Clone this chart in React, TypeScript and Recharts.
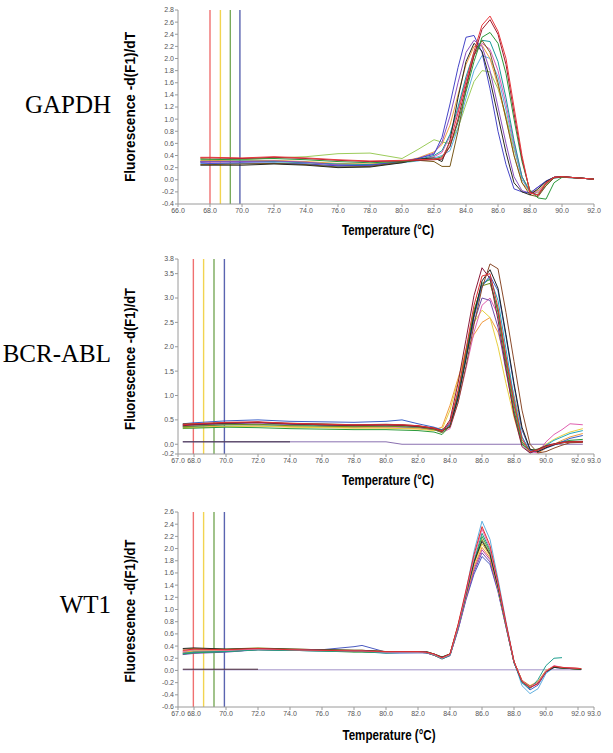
import React from 'react';
import { LineChart, Line, XAxis, YAxis, ReferenceLine } from 'recharts';

// ---------- GAPDH ----------
const gapdhTemps = [67.4, 68, 70, 72, 74, 76, 78, 80, 81, 82, 82.5, 83, 83.5, 84, 84.5, 85, 85.5, 86, 86.5, 87, 87.5, 88, 88.5, 89, 89.5, 90, 91, 92];
const gapdhRed = [0.37, 0.37, 0.36, 0.38, 0.36, 0.33, 0.31, 0.32, 0.33, 0.34, 0.36, 0.62, 1.1, 1.62, 2.12, 2.55, 2.7, 2.45, 2.0, 1.2, 0.4, -0.22, -0.25, -0.05, 0.04, 0.05, 0.03, 0.01];
const gapdhMaroon = [0.36, 0.36, 0.35, 0.37, 0.35, 0.32, 0.3, 0.31, 0.32, 0.33, 0.34, 0.55, 1.0, 1.55, 2.05, 2.48, 2.64, 2.4, 1.9, 1.1, 0.35, -0.2, -0.26, -0.06, 0.04, 0.05, 0.03, 0.01];
const gapdhBlue = [0.28, 0.27, 0.28, 0.27, 0.26, 0.23, 0.24, 0.3, 0.35, 0.42, 0.7, 1.25, 1.85, 2.35, 2.38, 2.1, 1.5, 0.8, 0.25, -0.15, -0.2, -0.22, -0.12, -0.02, 0.04, 0.05, 0.03, 0.01];
const gapdhGreen = [0.33, 0.33, 0.34, 0.35, 0.33, 0.3, 0.28, 0.3, 0.32, 0.34, 0.38, 0.55, 0.95, 1.45, 1.95, 2.35, 2.43, 2.25, 1.75, 1.0, 0.3, -0.18, -0.3, -0.32, -0.05, 0.04, 0.03, 0.01];
const gapdhTeal = [0.3, 0.3, 0.31, 0.3, 0.28, 0.26, 0.25, 0.29, 0.33, 0.4, 0.48, 0.75, 1.2, 1.7, 2.1, 2.3, 2.28, 1.95, 1.35, 0.65, 0.05, -0.2, -0.25, -0.1, 0.03, 0.04, 0.03, 0.01];
const gapdhLime = [0.35, 0.34, 0.33, 0.36, 0.38, 0.43, 0.44, 0.35, 0.5, 0.66, 0.62, 0.6, 0.85, 1.25, 1.62, 1.8, 1.78, 1.5, 1.05, 0.5, 0.05, -0.18, -0.22, -0.08, 0.03, 0.05, 0.03, 0.01];
const gapdhOrange = [0.32, 0.32, 0.31, 0.32, 0.3, 0.27, 0.26, 0.3, 0.36, 0.46, 0.58, 0.9, 1.4, 1.9, 2.2, 2.22, 2.0, 1.55, 1.0, 0.4, -0.05, -0.2, -0.18, -0.05, 0.04, 0.05, 0.03, 0.01];
const gapdhPink = [0.29, 0.29, 0.3, 0.31, 0.29, 0.25, 0.24, 0.29, 0.33, 0.38, 0.45, 0.72, 1.15, 1.65, 2.05, 2.25, 2.15, 1.8, 1.25, 0.6, 0.05, -0.22, -0.2, -0.06, 0.04, 0.04, 0.03, 0.01];
const gapdhBrown = [0.25, 0.25, 0.26, 0.27, 0.25, 0.21, 0.22, 0.29, 0.32, 0.3, 0.22, 0.22, 0.8, 1.5, 2.05, 2.3, 2.1, 1.6, 1.0, 0.4, -0.05, -0.25, -0.28, -0.1, 0.03, 0.05, 0.03, 0.01];
const gapdhBlack = [0.24, 0.24, 0.24, 0.26, 0.24, 0.2, 0.21, 0.28, 0.34, 0.36, 0.3, 0.65, 1.35, 1.95, 2.25, 2.12, 1.65, 1.05, 0.45, -0.05, -0.2, -0.25, -0.15, -0.03, 0.04, 0.05, 0.03, 0.01];
const gapdhPurple = [0.3, 0.3, 0.3, 0.31, 0.29, 0.24, 0.23, 0.29, 0.35, 0.44, 0.62, 1.05, 1.6, 2.1, 2.3, 2.2, 1.8, 1.2, 0.6, 0.05, -0.18, -0.22, -0.12, -0.03, 0.04, 0.05, 0.03, 0.01];
const gapdhCyan = [0.27, 0.27, 0.27, 0.28, 0.26, 0.22, 0.23, 0.28, 0.31, 0.36, 0.4, 0.48, 0.85, 1.35, 1.8, 2.05, 2.0, 1.7, 1.15, 0.55, 0.0, -0.2, -0.18, -0.05, 0.03, 0.04, 0.03, 0.01];
const gapdhXTicks = [66, 68, 70, 72, 74, 76, 78, 80, 82, 84, 86, 88, 90, 92];
const gapdhYTicks = [-0.4, -0.2, 0, 0.2, 0.4, 0.6, 0.8, 1.0, 1.2, 1.4, 1.6, 1.8, 2.0, 2.2, 2.4, 2.6, 2.8];

// ---------- BCR-ABL ----------
const bcrTemps = [67.3, 68, 70, 72, 74, 76, 78, 80, 81, 82, 83, 83.5, 84, 84.5, 85, 85.5, 86, 86.5, 87, 87.5, 88, 88.5, 89, 89.5, 90, 90.5, 91, 91.5, 92.3];
const bcrRed = [0.4, 0.42, 0.45, 0.46, 0.43, 0.41, 0.4, 0.4, 0.4, 0.38, 0.33, 0.27, 0.45, 1.1, 1.95, 2.85, 3.45, 3.5, 2.8, 1.8, 0.85, 0.1, -0.15, -0.12, -0.05, 0.0, 0.03, 0.05, 0.05];
const bcrMaroon = [0.38, 0.4, 0.44, 0.45, 0.42, 0.4, 0.39, 0.4, 0.39, 0.37, 0.32, 0.26, 0.5, 1.25, 2.15, 3.05, 3.62, 3.4, 2.55, 1.55, 0.6, -0.05, -0.18, -0.1, -0.03, 0.01, 0.04, 0.05, 0.05];
const bcrBrown = [0.42, 0.42, 0.44, 0.45, 0.43, 0.42, 0.4, 0.41, 0.4, 0.38, 0.33, 0.28, 0.35, 0.85, 1.6, 2.45, 3.2, 3.7, 3.6, 2.7, 1.7, 0.7, 0.0, -0.18, -0.15, -0.08, -0.02, 0.03, 0.04];
const bcrBlue = [0.42, 0.44, 0.48, 0.5, 0.47, 0.46, 0.45, 0.47, 0.5, 0.42, 0.35, 0.3, 0.4, 0.95, 1.75, 2.6, 3.25, 3.45, 3.15, 2.2, 1.2, 0.3, -0.12, -0.15, -0.08, -0.02, 0.05, 0.12, 0.18];
const bcrGreen = [0.33, 0.33, 0.35, 0.34, 0.32, 0.31, 0.3, 0.3, 0.29, 0.28, 0.25, 0.2, 0.38, 1.0, 1.85, 2.7, 3.3, 3.38, 2.7, 1.65, 0.7, 0.0, -0.12, -0.1, -0.04, 0.0, 0.05, 0.08, 0.1];
const bcrCyan = [0.36, 0.37, 0.4, 0.4, 0.39, 0.38, 0.37, 0.37, 0.36, 0.35, 0.31, 0.27, 0.36, 0.95, 1.8, 2.65, 3.25, 3.42, 2.95, 1.95, 0.95, 0.15, -0.14, -0.12, -0.02, 0.08, 0.15, 0.22, 0.28];
const bcrOrange = [0.34, 0.35, 0.37, 0.38, 0.36, 0.35, 0.34, 0.34, 0.33, 0.32, 0.3, 0.35, 0.8, 1.35, 1.85, 2.25, 2.5, 2.6, 2.3, 1.7, 1.0, 0.3, -0.1, -0.18, -0.08, 0.0, 0.08, 0.15, 0.22];
const bcrPink = [0.37, 0.38, 0.41, 0.42, 0.4, 0.38, 0.36, 0.36, 0.35, 0.34, 0.3, 0.24, 0.32, 0.85, 1.55, 2.3, 2.85, 3.0, 2.65, 1.8, 0.9, 0.15, -0.15, -0.18, 0.05, 0.2, 0.3, 0.42, 0.4];
const bcrBlack = [0.4, 0.41, 0.43, 0.45, 0.42, 0.4, 0.39, 0.4, 0.39, 0.37, 0.33, 0.28, 0.36, 0.95, 1.75, 2.65, 3.35, 3.58, 3.2, 2.25, 1.25, 0.35, -0.1, -0.15, -0.07, -0.01, 0.03, 0.05, 0.05];
const bcrYellow = [0.32, 0.34, 0.36, 0.37, 0.35, 0.34, 0.33, 0.33, 0.32, 0.31, 0.28, 0.3, 0.7, 1.3, 1.95, 2.5, 2.75, 2.6, 2.0, 1.25, 0.55, 0.0, -0.15, -0.1, 0.0, 0.1, 0.18, 0.25, 0.32];
const bcrPurple = [0.39, 0.4, 0.42, 0.44, 0.41, 0.4, 0.38, 0.38, 0.38, 0.36, 0.31, 0.25, 0.45, 1.05, 1.8, 2.5, 3.0, 2.95, 2.4, 1.5, 0.65, 0.0, -0.18, -0.12, -0.05, 0.0, 0.04, 0.06, 0.06];
const bcrOlive = [0.36, 0.37, 0.4, 0.41, 0.38, 0.37, 0.36, 0.37, 0.36, 0.35, 0.3, 0.24, 0.4, 1.05, 1.9, 2.75, 3.25, 3.3, 2.75, 1.75, 0.8, 0.05, -0.15, -0.12, -0.04, 0.0, 0.03, 0.05, 0.06];
const bcrNtcDark = [0.05, 0.05, 0.05, 0.05, 0.05, null, null, null, null, null, null, null, null, null, null, null, null, null, null, null, null, null, null, null, null, null, null, null, null];
const bcrNtc = [0.05, 0.05, 0.05, 0.05, 0.05, 0.05, 0.05, 0.05, 0.0, 0.0, 0.0, 0.0, 0.0, 0.0, 0.0, 0.0, 0.0, 0.0, 0.0, 0.0, 0.0, 0.0, 0.0, 0.0, 0.0, 0.0, 0.0, 0.0, 0.0];
const bcrXTicks = [67, 68, 70, 72, 74, 76, 78, 80, 82, 84, 86, 88, 90, 92, 93];
const bcrYTicks = [-0.2, 0, 0.5, 1.0, 1.5, 2.0, 2.5, 3.0, 3.5, 3.8];

// ---------- WT1 ----------
const wt1Temps = [67.3, 68, 70, 72, 74, 76, 78, 78.5, 80, 82, 82.5, 83, 83.5, 84, 84.5, 85, 85.5, 86, 86.5, 87, 87.5, 88, 88.5, 89, 89.5, 90, 90.5, 91, 92.2];
const wt1LightBlue = [0.3, 0.33, 0.33, 0.35, 0.33, 0.32, 0.31, 0.31, 0.28, 0.29, 0.29, 0.27, 0.2, 0.26, 0.72, 1.3, 1.95, 2.45, 2.15, 1.5, 0.8, 0.15, -0.25, -0.38, -0.3, -0.05, 0.05, 0.04, 0.02];
const wt1Red = [0.33, 0.35, 0.34, 0.36, 0.34, 0.33, 0.32, 0.32, 0.31, 0.31, 0.3, 0.27, 0.21, 0.27, 0.75, 1.32, 1.9, 2.36, 2.05, 1.45, 0.78, 0.15, -0.18, -0.28, -0.22, -0.02, 0.07, 0.05, 0.03];
const wt1Pink = [0.31, 0.34, 0.33, 0.35, 0.34, 0.33, 0.32, 0.32, 0.3, 0.3, 0.3, 0.26, 0.2, 0.26, 0.72, 1.28, 1.85, 2.32, 2.0, 1.42, 0.76, 0.14, -0.17, -0.27, -0.2, -0.01, 0.08, 0.05, 0.03];
const wt1Teal = [0.28, 0.3, 0.31, 0.34, 0.33, 0.32, 0.31, 0.31, 0.29, 0.3, 0.29, 0.26, 0.19, 0.25, 0.7, 1.25, 1.8, 2.25, 1.98, 1.4, 0.75, 0.13, -0.2, -0.3, -0.15, 0.08, 0.2, 0.21, null];
const wt1Green = [0.27, 0.29, 0.31, 0.34, 0.33, 0.32, 0.3, 0.3, 0.29, 0.3, 0.3, 0.25, 0.19, 0.25, 0.7, 1.25, 1.78, 2.2, 1.95, 1.38, 0.74, 0.13, -0.18, -0.28, -0.2, -0.02, 0.06, 0.04, 0.02];
const wt1Olive = [0.35, 0.36, 0.35, 0.37, 0.35, 0.34, 0.33, 0.33, 0.31, 0.31, 0.31, 0.27, 0.22, 0.27, 0.72, 1.25, 1.76, 2.15, 1.92, 1.38, 0.75, 0.14, -0.17, -0.26, -0.2, -0.01, 0.06, 0.04, 0.02];
const wt1Yellow = [0.3, 0.32, 0.33, 0.35, 0.34, 0.33, 0.32, 0.32, 0.3, 0.3, 0.3, 0.26, 0.2, 0.27, 0.74, 1.27, 1.75, 2.08, 1.88, 1.36, 0.74, 0.14, -0.17, -0.26, -0.19, 0.0, 0.07, 0.05, 0.03];
const wt1Orange = [0.32, 0.34, 0.34, 0.36, 0.35, 0.34, 0.33, 0.33, 0.31, 0.31, 0.3, 0.26, 0.21, 0.26, 0.71, 1.22, 1.7, 2.02, 1.85, 1.34, 0.73, 0.14, -0.16, -0.25, -0.18, 0.0, 0.06, 0.04, 0.02];
const wt1Magenta = [0.29, 0.31, 0.32, 0.35, 0.34, 0.33, 0.32, 0.32, 0.3, 0.3, 0.29, 0.25, 0.19, 0.25, 0.68, 1.2, 1.66, 1.98, 1.82, 1.33, 0.72, 0.13, -0.17, -0.26, -0.19, -0.01, 0.06, 0.05, 0.03];
const wt1Purple = [0.26, 0.28, 0.3, 0.34, 0.33, 0.32, 0.31, 0.31, 0.29, 0.29, 0.29, 0.25, 0.19, 0.24, 0.67, 1.18, 1.62, 1.93, 1.78, 1.31, 0.72, 0.13, -0.18, -0.27, -0.2, -0.01, 0.05, 0.04, 0.02];
const wt1Blue = [0.27, 0.29, 0.31, 0.34, 0.33, 0.34, 0.39, 0.41, 0.3, 0.3, 0.29, 0.25, 0.2, 0.25, 0.66, 1.16, 1.58, 1.87, 1.74, 1.29, 0.71, 0.13, -0.2, -0.32, -0.24, -0.03, 0.05, 0.04, 0.02];
const wt1Black = [0.36, 0.37, 0.35, 0.36, 0.35, 0.34, 0.33, 0.33, 0.31, 0.31, 0.31, 0.27, 0.22, 0.27, 0.73, 1.26, 1.78, 2.12, 1.9, 1.37, 0.75, 0.14, -0.18, -0.28, -0.21, -0.02, 0.05, 0.04, 0.02];
const wt1NtcDark = [0.02, 0.02, 0.02, 0.02, null, null, null, null, null, null, null, null, null, null, null, null, null, null, null, null, null, null, null, null, null, null, null, null, null];
const wt1Ntc = [0.01, 0.01, 0.01, 0.01, 0.01, 0.01, 0.01, 0.01, 0.01, 0.01, 0.01, 0.01, 0.01, 0.01, 0.01, 0.01, 0.01, 0.01, 0.01, 0.01, 0.01, 0.01, 0.01, 0.01, 0.01, 0.01, 0.01, 0.01, 0.01];
const wt1XTicks = [67, 68, 70, 72, 74, 76, 78, 80, 82, 84, 86, 88, 90, 92, 93];
const wt1YTicks = [-0.6, -0.4, -0.2, 0, 0.2, 0.4, 0.6, 0.8, 1.0, 1.2, 1.4, 1.6, 1.8, 2.0, 2.2, 2.4, 2.6];

// vertical marker positions (deg C)
const gapdhMarkers = [68.0, 68.65, 69.27, 69.87];
const otherMarkers = [67.96, 68.6, 69.25, 69.9];
const markerColors = ['#f07070', '#f2d450', '#7aaa5a', '#5a64b0'];

type Series = { key: string; color: string; values: (number | null)[] };

const gapdhSeries: Series[] = [
  { key: 'lime', color: '#9ccc5a', values: gapdhLime },
  { key: 'cyan', color: '#5aaee0', values: gapdhCyan },
  { key: 'pink', color: '#d85ab8', values: gapdhPink },
  { key: 'orange', color: '#f0a040', values: gapdhOrange },
  { key: 'teal', color: '#1a9a9a', values: gapdhTeal },
  { key: 'purple', color: '#8a50c0', values: gapdhPurple },
  { key: 'blue', color: '#4646c8', values: gapdhBlue },
  { key: 'brown', color: '#7a5a1c', values: gapdhBrown },
  { key: 'black', color: '#2a2a20', values: gapdhBlack },
  { key: 'green', color: '#2a9a3a', values: gapdhGreen },
  { key: 'maroon', color: '#a01c2c', values: gapdhMaroon },
  { key: 'red', color: '#e8383d', values: gapdhRed },
];

const bcrSeries: Series[] = [
  { key: 'ntc', color: '#8a70b0', values: bcrNtc },
  { key: 'ntcDark', color: '#40304a', values: bcrNtcDark },
  { key: 'orange', color: '#f09a40', values: bcrOrange },
  { key: 'yellow', color: '#e8d040', values: bcrYellow },
  { key: 'pink', color: '#e060b0', values: bcrPink },
  { key: 'cyan', color: '#20a8c0', values: bcrCyan },
  { key: 'purple', color: '#7050a8', values: bcrPurple },
  { key: 'olive', color: '#70901a', values: bcrOlive },
  { key: 'green', color: '#2a9a3a', values: bcrGreen },
  { key: 'blue', color: '#3a60c8', values: bcrBlue },
  { key: 'black', color: '#222222', values: bcrBlack },
  { key: 'brown', color: '#8a4a2a', values: bcrBrown },
  { key: 'maroon', color: '#8a1a3a', values: bcrMaroon },
  { key: 'red', color: '#e03030', values: bcrRed },
];

const wt1Series: Series[] = [
  { key: 'ntc', color: '#a090c8', values: wt1Ntc },
  { key: 'ntcDark', color: '#4a2a3a', values: wt1NtcDark },
  { key: 'lightBlue', color: '#60b0e0', values: wt1LightBlue },
  { key: 'blue', color: '#4a5ac0', values: wt1Blue },
  { key: 'purple', color: '#7050b0', values: wt1Purple },
  { key: 'magenta', color: '#c040a0', values: wt1Magenta },
  { key: 'orange', color: '#f09040', values: wt1Orange },
  { key: 'yellow', color: '#e8c830', values: wt1Yellow },
  { key: 'olive', color: '#8a8a20', values: wt1Olive },
  { key: 'green', color: '#30a040', values: wt1Green },
  { key: 'teal', color: '#20a090', values: wt1Teal },
  { key: 'black', color: '#2a2a2a', values: wt1Black },
  { key: 'pink', color: '#e870b8', values: wt1Pink },
  { key: 'red', color: '#e03030', values: wt1Red },
];

function buildRows(temps: number[], series: Series[]) {
  return temps.map((t, i) => {
    const row: Record<string, number | null> = { t };
    series.forEach((s) => {
      row[s.key] = s.values[i];
    });
    return row;
  });
}

const axisColor = '#9a9a9a';
const tickStyle = { fontSize: 7, fill: '#555', fontFamily: 'Arial, "Liberation Sans", sans-serif' };

function MeltPanel({
  top,
  height,
  margin,
  temps,
  series,
  xDomain,
  xTicks,
  yDomain,
  yTicks,
  markers,
}: {
  top: number;
  height: number;
  margin: { top: number; right: number; bottom: number; left: number };
  temps: number[];
  series: Series[];
  xDomain: [number, number];
  xTicks: number[];
  yDomain: [number, number];
  yTicks: number[];
  markers: number[];
}) {
  const rows = buildRows(temps, series);
  return (
    <div style={{ position: 'absolute', left: 0, top, width: 613, height }}>
      <LineChart width={613} height={height} data={rows} margin={margin}>
        <XAxis
          type="number"
          dataKey="t"
          domain={xDomain}
          ticks={xTicks}
          interval={0}
          tickFormatter={(v: number) => v.toFixed(1)}
          tick={tickStyle}
          stroke={axisColor}
          tickSize={3}
          tickMargin={1}
          height={20}
          allowDataOverflow
        />
        <YAxis
          type="number"
          domain={yDomain}
          ticks={yTicks}
          interval={0}
          tickFormatter={(v: number) => v.toFixed(1)}
          tick={tickStyle}
          stroke={axisColor}
          tickSize={3}
          tickMargin={1}
          width={50}
          allowDataOverflow
        />
        {markers.map((m, i) => (
          <ReferenceLine key={m} x={m} stroke={markerColors[i]} strokeWidth={1.4} ifOverflow="extendDomain" />
        ))}
        {series.map((s) => (
          <Line
            key={s.key}
            type="linear"
            dataKey={s.key}
            stroke={s.color}
            strokeWidth={1}
            dot={false}
            activeDot={false}
            isAnimationActive={false}
            connectNulls={false}
          />
        ))}
      </LineChart>
    </div>
  );
}

const titleFont = 'Arial, "Liberation Sans", sans-serif';
const geneFont = '"Times New Roman", "Liberation Serif", serif';

export default function App() {
  return (
    <div style={{ position: 'absolute', left: 0, top: 0, width: 613, height: 753, background: '#fff' }}>
      <MeltPanel
        top={0}
        height={240}
        margin={{ top: 10, right: 19, bottom: 16, left: 128 }}
        temps={gapdhTemps}
        series={gapdhSeries}
        xDomain={[66, 92]}
        xTicks={gapdhXTicks}
        yDomain={[-0.4, 2.8]}
        yTicks={gapdhYTicks}
        markers={gapdhMarkers}
      />
      <MeltPanel
        top={250}
        height={240}
        margin={{ top: 9, right: 19, bottom: 16, left: 128 }}
        temps={bcrTemps}
        series={bcrSeries}
        xDomain={[67, 93]}
        xTicks={bcrXTicks}
        yDomain={[-0.2, 3.8]}
        yTicks={bcrYTicks}
        markers={otherMarkers}
      />
      <MeltPanel
        top={500}
        height={253}
        margin={{ top: 12, right: 19, bottom: 26, left: 128 }}
        temps={wt1Temps}
        series={wt1Series}
        xDomain={[67, 93]}
        xTicks={wt1XTicks}
        yDomain={[-0.6, 2.6]}
        yTicks={wt1YTicks}
        markers={otherMarkers}
      />
      <svg width={613} height={753} style={{ position: 'absolute', left: 0, top: 0, pointerEvents: 'none' }}>
        <g fontFamily={geneFont} fontSize={25} fill="#000" textAnchor="end">
          <text x={111} y={113}>GAPDH</text>
          <text x={111} y={362}>BCR-ABL</text>
          <text x={111} y={613}>WT1</text>
        </g>
        <g fontFamily={titleFont} fontWeight="bold" fontSize={14} fill="#000" textAnchor="middle">
          <text x={388} y={235} textLength={92} lengthAdjust="spacingAndGlyphs">Temperature (°C)</text>
          <text x={388} y={485} textLength={92} lengthAdjust="spacingAndGlyphs">Temperature (°C)</text>
          <text x={389} y={740} textLength={93} lengthAdjust="spacingAndGlyphs">Temperature (°C)</text>
          <text transform="translate(135,107) rotate(-90)" textLength={150} lengthAdjust="spacingAndGlyphs">Fluorescence -d(F1)/dT</text>
          <text transform="translate(135,359) rotate(-90)" textLength={142} lengthAdjust="spacingAndGlyphs">Fluorescence -d(F1)/dT</text>
          <text transform="translate(135,611) rotate(-90)" textLength={143} lengthAdjust="spacingAndGlyphs">Fluorescence -d(F1)/dT</text>
        </g>
      </svg>
    </div>
  );
}
